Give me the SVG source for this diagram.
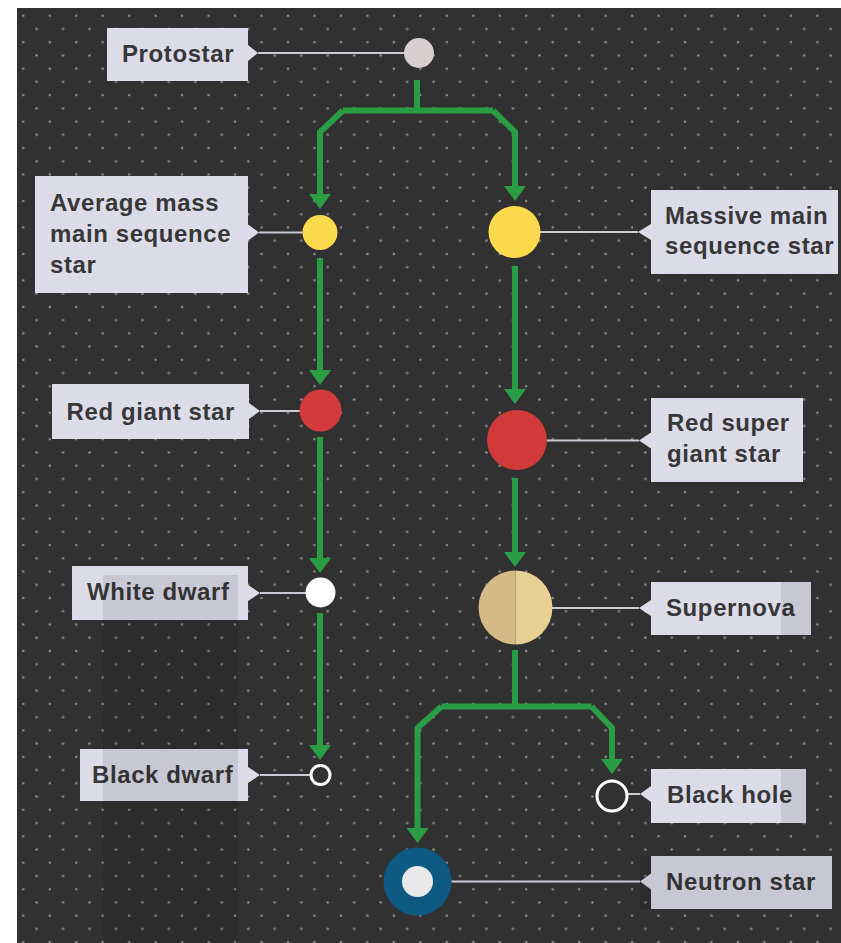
<svg xmlns="http://www.w3.org/2000/svg" width="841" height="943" viewBox="0 0 841 943">
  <defs>
    <pattern id="dots" patternUnits="userSpaceOnUse" x="23.3" y="15.7" width="26.47" height="26.47">
      <circle cx="0" cy="0" r="1.3" fill="#8c8c8c"/>
      <circle cx="26.47" cy="0" r="1.3" fill="#8c8c8c"/>
      <circle cx="0" cy="26.47" r="1.3" fill="#8c8c8c"/>
      <circle cx="26.47" cy="26.47" r="1.3" fill="#8c8c8c"/>
      <circle cx="13.235" cy="13.235" r="1.3" fill="#8c8c8c"/>
    </pattern>
    <marker id="ah" markerUnits="userSpaceOnUse" markerWidth="15" markerHeight="22" viewBox="0 0 15 22" refX="0" refY="11" orient="auto">
      <path d="M0,0 L15,11 L0,22 Z" fill="#2a9d45"/>
    </marker>
    <style>
      .lbl { fill: #dcdce9; }
      .txt { font-family: "Liberation Sans", Arial, sans-serif; font-weight: bold; font-size: 24px; letter-spacing: 0.6px; fill: #373737; }
      .lead { stroke: #c9c9d3; stroke-width: 2; fill: none; }
      .flow { stroke: #2a9d45; stroke-width: 6; fill: none; stroke-linejoin: miter; }
      .shade { fill: #000; opacity: 0.09; }
    </style>
  </defs>

  <rect x="0" y="0" width="841" height="943" fill="#ffffff"/>
  <rect x="17" y="8" width="824" height="935" fill="#313131"/>
  <rect x="17" y="8" width="824" height="935" fill="url(#dots)"/>

  <g id="connectors">
    <path class="flow" d="M417,80 V110.5"/>
    <path class="flow" d="M343,110.5 H493"/>
    <path class="flow" d="M343,110.5 L320,132 V194" marker-end="url(#ah)"/>
    <path class="flow" d="M493,110.5 L515,132 V186" marker-end="url(#ah)"/>
    <path class="flow" d="M320,258 V370" marker-end="url(#ah)"/>
    <path class="flow" d="M320,437 V558" marker-end="url(#ah)"/>
    <path class="flow" d="M320,613 V745" marker-end="url(#ah)"/>
    <path class="flow" d="M515,266 V389" marker-end="url(#ah)"/>
    <path class="flow" d="M515,478 V552" marker-end="url(#ah)"/>
    <path class="flow" d="M515,650 V706.5"/>
    <path class="flow" d="M441.5,706.5 H591.5"/>
    <path class="flow" d="M441.5,706.5 L417.5,728 V828" marker-end="url(#ah)"/>
    <path class="flow" d="M591.5,706.5 L612,728 V759" marker-end="url(#ah)"/>

    <line class="lead" x1="258" y1="53" x2="405" y2="53"/>
    <line class="lead" x1="259" y1="232.5" x2="303" y2="232.5"/>
    <line class="lead" x1="540" y1="232" x2="638" y2="232"/>
    <line class="lead" x1="260" y1="411" x2="300" y2="411"/>
    <line class="lead" x1="547" y1="440.5" x2="639" y2="440.5"/>
    <line class="lead" x1="260" y1="593" x2="306" y2="593"/>
    <line class="lead" x1="552" y1="608" x2="639" y2="608"/>
    <line class="lead" x1="260" y1="775" x2="311" y2="775"/>
    <line class="lead" x1="627" y1="794" x2="640" y2="794"/>
    <line class="lead" x1="451" y1="881.5" x2="640" y2="881.5"/>
  </g>

  <g id="protostar">
    <path class="lbl" d="M107,28 H248 V45 L258,53 L248,61 V81 H107 Z"/>
    <text class="txt" x="122" y="61.5">Protostar</text>
    <circle cx="419" cy="53" r="15" fill="#d7cfcf"/>
  </g>

  <g id="average-mass">
    <path class="lbl" d="M35,176 H248 V224.5 L259,232.5 L248,240.5 V293 H35 Z"/>
    <text class="txt" x="50" y="210.5">Average mass</text>
    <text class="txt" x="50" y="241.5">main sequence</text>
    <text class="txt" x="50" y="272.5">star</text>
    <circle cx="320" cy="232.5" r="17.5" fill="#fdd94e"/>
  </g>

  <g id="massive">
    <path class="lbl" d="M651,190 H838 V274 H651 V240 L638,232 L651,224 Z"/>
    <text class="txt" x="665" y="224">Massive main</text>
    <text class="txt" x="665" y="254">sequence star</text>
    <circle cx="514.5" cy="232" r="26" fill="#fdd94e"/>
  </g>

  <g id="red-giant">
    <path class="lbl" d="M52,384 H249 V403 L260,411 L249,419 V439 H52 Z"/>
    <text class="txt" x="66.5" y="420">Red giant star</text>
    <circle cx="320.5" cy="410.5" r="21" fill="#d23a3b"/>
  </g>

  <g id="red-super-giant">
    <path class="lbl" d="M651,398 H803 V482 H651 V448.5 L639,440.5 L651,432.5 Z"/>
    <text class="txt" x="667" y="431">Red super</text>
    <text class="txt" x="667" y="462">giant star</text>
    <circle cx="517" cy="440" r="30" fill="#d23a3b"/>
  </g>

  <g id="white-dwarf">
    <path class="lbl" d="M72,566 H248 V585 L260,593 L248,601 V620 H72 Z"/>
    <text class="txt" x="87" y="600">White dwarf</text>
    <circle cx="320.5" cy="592.5" r="15" fill="#ffffff"/>
  </g>

  <g id="supernova">
    <path class="lbl" d="M651,582 H811 V635 H651 V616 L639,608 L651,600 Z"/>
    <text class="txt" x="666" y="616">Supernova</text>
    <path d="M515.5,570.5 A37,37 0 0 0 515.5,644.5 Z" fill="#d5ba86"/>
    <path d="M515.5,570.5 A37,37 0 0 1 515.5,644.5 Z" fill="#e8cf94"/>
  </g>

  <g id="black-dwarf">
    <path class="lbl" d="M80,749 H248 V767 L260,775 L248,783 V801 H80 Z"/>
    <text class="txt" x="92" y="782.5">Black dwarf</text>
    <circle cx="320.5" cy="775" r="9.5" fill="#313131" stroke="#ffffff" stroke-width="3"/>
  </g>

  <g id="black-hole">
    <path class="lbl" d="M651,769 H806 V823 H651 V802 L640,794 L651,786 Z"/>
    <text class="txt" x="667" y="802.5">Black hole</text>
    <circle cx="612" cy="796" r="15" fill="#313131" stroke="#ffffff" stroke-width="3"/>
  </g>

  <g id="neutron-star">
    <path class="lbl" d="M651,856 H832 V909 H651 V889.5 L640,881.5 L651,873.5 Z"/>
    <text class="txt" x="666" y="890">Neutron star</text>
    <circle cx="417.5" cy="881.5" r="34" fill="#0f5a82"/>
    <circle cx="417.5" cy="881.5" r="15.5" fill="#e9e9e9"/>
  </g>

  <g id="shading">
    <rect class="shade" x="103" y="575" width="135" height="368"/>
    <rect class="shade" x="781" y="582" width="30" height="53"/>
    <rect class="shade" x="781" y="769" width="25" height="54"/>
    <rect class="shade" x="640" y="856" width="192" height="53"/>
  </g>
</svg>
